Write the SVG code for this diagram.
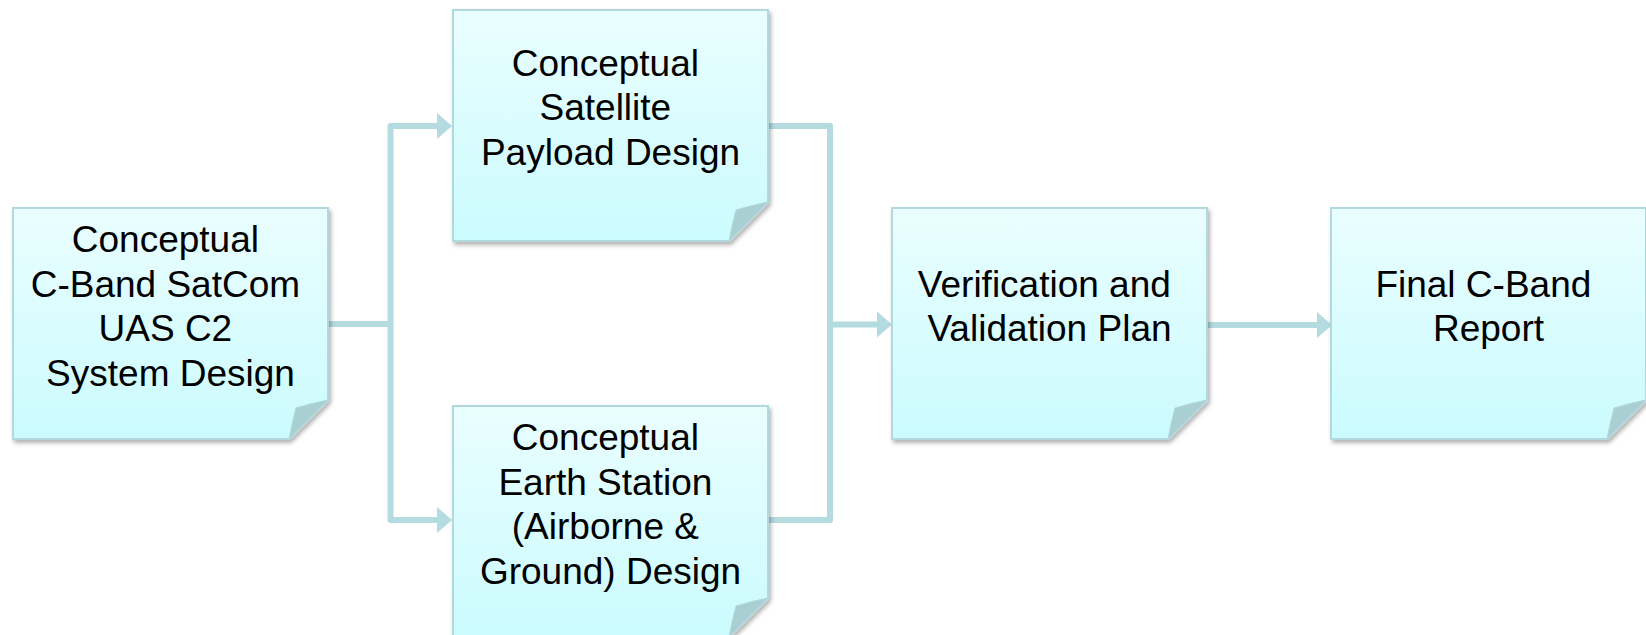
<svg xmlns="http://www.w3.org/2000/svg" width="1646" height="635" viewBox="0 0 1646 635">
  <defs>
    <linearGradient id="noteFill" x1="0" y1="0" x2="0" y2="1">
      <stop offset="0" stop-color="#eafeff"/>
      <stop offset="1" stop-color="#cbfbfe"/>
    </linearGradient>
    <filter id="noteShadow" x="-10%" y="-10%" width="125%" height="125%">
      <feDropShadow dx="2" dy="3" stdDeviation="2" flood-color="#000" flood-opacity="0.3"/>
    </filter>
    <marker id="arrow" markerUnits="userSpaceOnUse" markerWidth="16" markerHeight="27" refX="0" refY="13" orient="auto">
      <path d="M0,0 L15,13 L0,26 Z" fill="#b4dbe0"/>
    </marker>
    <!-- sticky-note shape with a curled bottom-right corner -->
    <path id="note" d="M0,0 H315 V192 L276,231 H0 Z"/>
    <path id="curl" d="M315,192 Q299,195 283,200 Q279,215 276,231 Z"/>
  </defs>
  <style>
    .body { fill: url(#noteFill); stroke: #b2d9dd; stroke-width: 2; filter: url(#noteShadow); }
    .fold { fill: #a9cfd2; stroke: #b2d9dd; stroke-width: 1; }
    .label { font-family: "Liberation Sans", Arial, sans-serif; font-size: 37px; fill: #000; text-anchor: middle; }
    .link { fill: none; stroke: #b4dbe0; stroke-width: 6; stroke-linejoin: round; }
  </style>

  <rect width="1646" height="635" fill="#ffffff"/>

  <g id="connectors">
    <path class="link" d="M328,324 H390.5"/>
    <path class="link" d="M390.5,324 V126 H437" marker-end="url(#arrow)"/>
    <path class="link" d="M390.5,324 V520 H437" marker-end="url(#arrow)"/>
    <path class="link" d="M767,126 H830 V324"/>
    <path class="link" d="M767,520 H830 V324"/>
    <path class="link" d="M830,324.5 H877" marker-end="url(#arrow)"/>
    <path class="link" d="M1207,325 H1317" marker-end="url(#arrow)"/>
  </g>

  <g id="system-design" transform="translate(13,208)">
    <use href="#note" class="body"/>
    <use href="#curl" class="fold"/>
    <text class="label" x="157.5">
      <tspan x="157.5" y="44.4">Conceptual</tspan>
      <tspan x="157.5" y="88.8">C-Band SatCom</tspan>
      <tspan x="157.5" y="133.2">UAS C2</tspan>
      <tspan x="157.5" y="177.6">System Design</tspan>
    </text>
  </g>

  <g id="payload-design" transform="translate(453,10)">
    <use href="#note" class="body"/>
    <use href="#curl" class="fold"/>
    <text class="label" x="157.5">
      <tspan x="157.5" y="66">Conceptual</tspan>
      <tspan x="157.5" y="110.4">Satellite</tspan>
      <tspan x="157.5" y="154.8">Payload Design</tspan>
    </text>
  </g>

  <g id="earth-station-design" transform="translate(453,406)">
    <use href="#note" class="body"/>
    <use href="#curl" class="fold"/>
    <text class="label" x="157.5">
      <tspan x="157.5" y="44.4">Conceptual</tspan>
      <tspan x="157.5" y="88.8">Earth Station</tspan>
      <tspan x="157.5" y="133.2">(Airborne &amp;</tspan>
      <tspan x="157.5" y="177.6">Ground) Design</tspan>
    </text>
  </g>

  <g id="vv-plan" transform="translate(892,208)">
    <use href="#note" class="body"/>
    <use href="#curl" class="fold"/>
    <text class="label" x="157.5">
      <tspan x="157.5" y="88.8">Verification and</tspan>
      <tspan x="157.5" y="133.2">Validation Plan</tspan>
    </text>
  </g>

  <g id="final-report" transform="translate(1331,208)">
    <use href="#note" class="body"/>
    <use href="#curl" class="fold"/>
    <text class="label" x="157.5">
      <tspan x="157.5" y="88.8">Final C-Band</tspan>
      <tspan x="157.5" y="133.2">Report</tspan>
    </text>
  </g>
</svg>
